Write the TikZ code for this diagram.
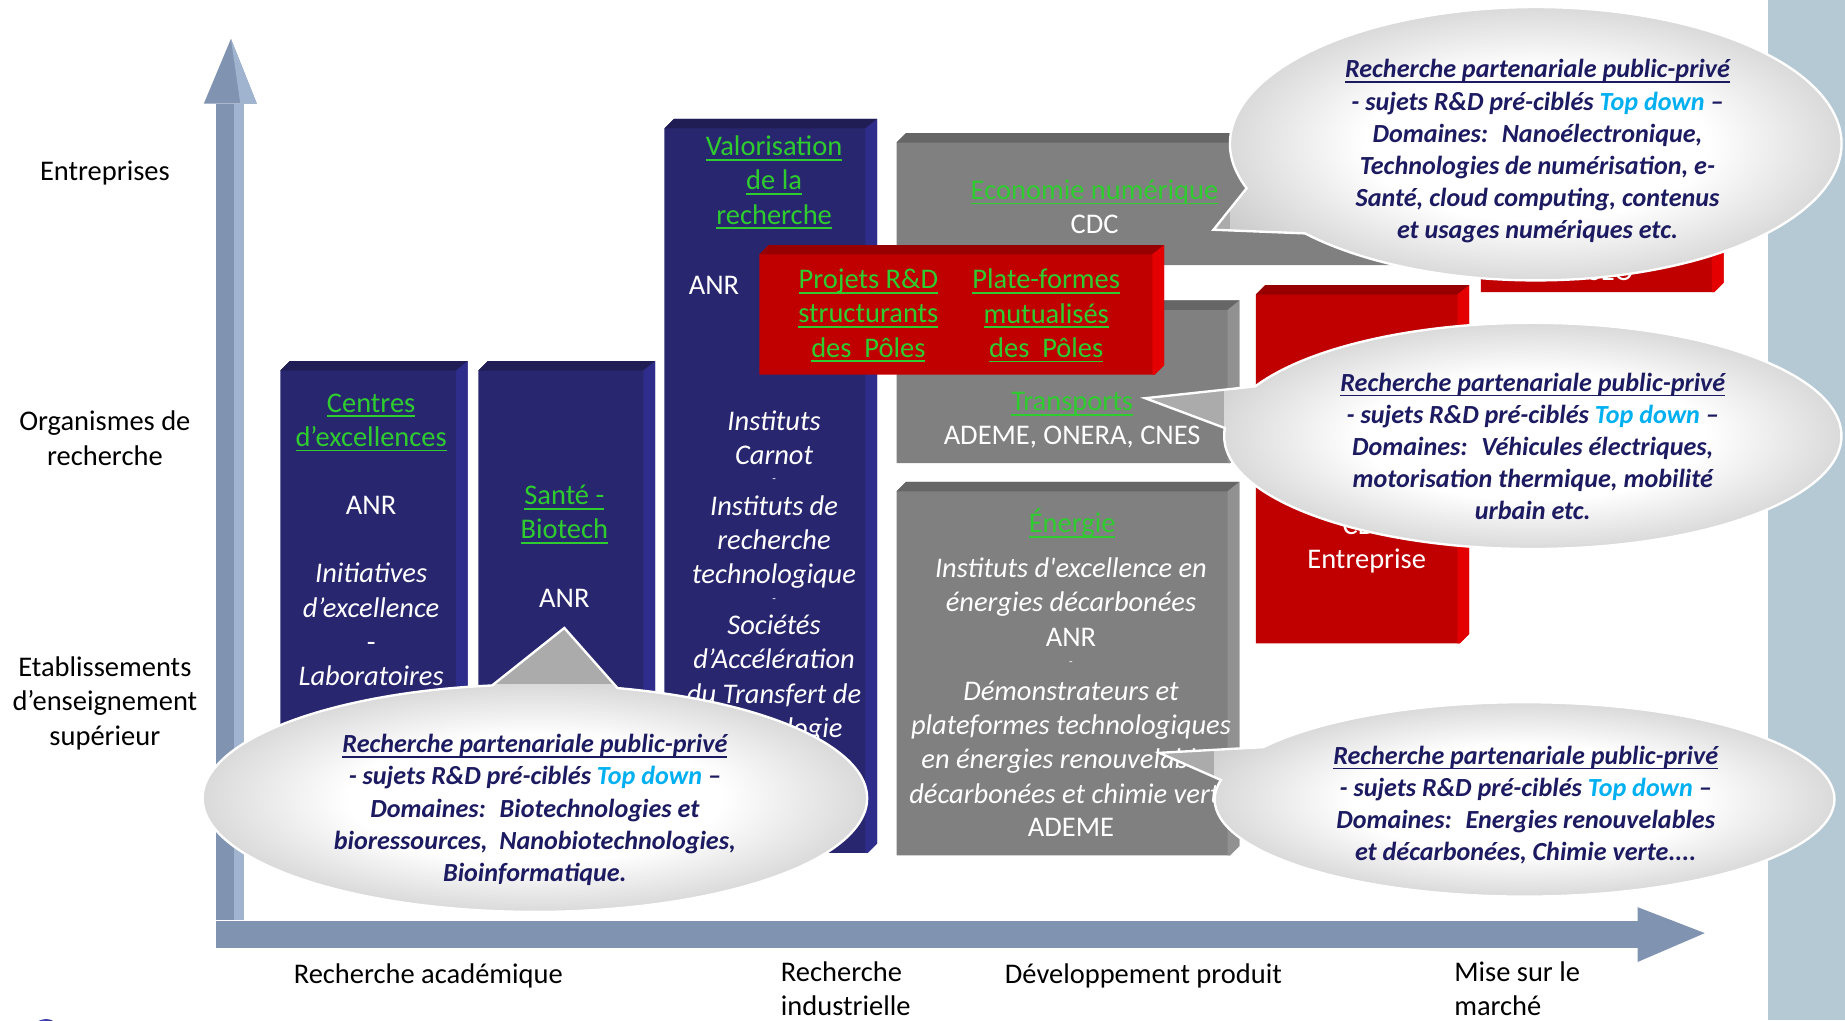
\documentclass[tikz,border=0pt]{standalone}
\usepackage{fontspec}
\setmainfont{Carlito}
\usepackage{tikz}
\usetikzlibrary{positioning,shapes,arrows,backgrounds,fit}

\definecolor{navyface}{RGB}{41,38,112}
\definecolor{navytop}{RGB}{31,29,84}
\definecolor{navyside}{RGB}{47,45,140}
\definecolor{grisface}{RGB}{128,128,128}
\definecolor{gristop}{RGB}{102,102,102}
\definecolor{grisside}{RGB}{145,145,145}
\definecolor{rougeface}{RGB}{192,0,0}
\definecolor{rougetop}{RGB}{150,0,0}
\definecolor{rougeside}{RGB}{228,0,0}
\definecolor{vertlien}{RGB}{46,204,46}
\definecolor{axe}{RGB}{128,147,176}
\definecolor{axeclair}{RGB}{160,180,208}
\definecolor{bande}{RGB}{181,201,213}
\definecolor{encre}{RGB}{28,26,96}
\definecolor{topdown}{RGB}{0,176,240}

\pgfdeclareradialshading{reflet}{\pgfpoint{0bp}{0bp}}{%
  color(0bp)=(white); color(14bp)=(white); color(44bp)=(black!40); color(50bp)=(black!40)}

\newcommand{\souligne}[1]{\leavevmode\setbox0\hbox{#1}\rlap{\vrule width\wd0 height -1.7pt depth 2.6pt}\box0}
\newcommand{\lien}[1]{\textcolor{vertlien}{\souligne{#1}}}
\newcommand{\td}{\textcolor{topdown}{Top down}}

% bar: name, x1, y1, x2, y2, colour
\newcommand{\bloc}[6]{%
  \fill[#6face] (#2,#3+8) -- (#2+8,#3) -- (#4,#3) -- (#4,#5-8) -- (#4-8,#5) -- (#2,#5) -- cycle;
  \fill[#6top] (#2,#3+8) -- (#2+8,#3) -- (#4,#3) -- (#4-10,#3+8) -- cycle;
  \fill[#6side] (#4-10,#3+8) -- (#4,#3) -- (#4,#5-8) -- (#4-8,#5) -- (#4-10,#5) -- cycle;
  \coordinate (#1) at (#2,#3);
}

% callout: cx, cy, rx, ry, tip, start and end angle of the rim
\newcommand{\bulle}[7]{%
  \path[draw=white, line width=1.2pt,
    path picture={
      \fill[black!33] (path picture bounding box.south west) rectangle (path picture bounding box.north east);
      \shade[shading=reflet] (#1-#3,#2-#4) rectangle (#1+#3,#2+#4);
    }]
    (#5) -- ([shift={(#1,#2)}]#6:#3 and #4) arc[start angle=#6, end angle=#7, x radius=#3, y radius=#4] -- cycle;
}

\begin{document}
\begin{tikzpicture}[x=0.6pt, y=-0.6pt,
    txt/.style={%
      align=center, inner sep=0pt, font=\fontsize{14.5}{17.4}\selectfont
    },
    blanc/.style={txt, text=white},
    blancit/.style={blanc, font=\fontsize{14.5}{17.4}\selectfont\itshape},
    tiret/.style={inner sep=0pt, text=white, font=\fontsize{6}{7}\selectfont},
    bulletxt/.style={%
      align=center, inner sep=0pt, text=encre,
      font=\fontsize{13.3}{16.4}\selectfont\bfseries\itshape
    }
]
    \useasboundingbox (0,0) rectangle (1566,866);
    \fill[bande] (1501,0) rectangle (1566,866);

    % axes
    \fill[axe] (183,88) rectangle (207,781);
    \fill[axeclair] (199,88) rectangle (207,781);
    \fill[axe] (173,88) -- (196,33) -- (218,88) -- cycle;
    \fill[axeclair] (196,33) -- (218,88) -- (204,88) -- cycle;
    \fill[axe] (183,782) rectangle (1390,805);
    \fill[axe] (1390,770) -- (1447,792) -- (1390,816.5) -- cycle;
    \begin{scope}
      \clip (0,0) rectangle (1566,866);
      \shade[ball color=blue!65!white] (39,878) circle (13);
    \end{scope}

    % bars
    \bloc{centresbar}{238}{306.5}{397}{726}{navy}
    \bloc{santebar}{406}{306.5}{556}{726}{navy}
    \bloc{valobar}{564}{101}{744.5}{724}{navy}
    \bloc{numbar}{761}{113}{1245}{225}{gris}
    \bloc{transbar}{761}{255}{1052}{393}{gris}
    \bloc{energiebar}{761}{409}{1052}{726}{gris}
    \bloc{polesbar}{644.5}{208}{988}{318}{rouge}
    \bloc{entreprisebar}{1066}{242}{1247}{546}{rouge}
    \bloc{oseobar}{1257}{100}{1463}{248}{rouge}

    \node[blanc] (centres) at (315,458) {\lien{Centres}\\\lien{d’excellences}\\[17.4pt]ANR\\[17.4pt]%
      \textit{Initiatives}\\\textit{d’excellence}\\-\\\textit{Laboratoires}};
    \node[blanc] (sante) at (479,463.5) {\lien{Santé -}\\\lien{Biotech}\\[17.4pt]ANR};

    \node[blanc] (valorisation) at (657,155) {\lien{Valorisation}\\\lien{de la}\\\lien{recherche}};
    \node[blanc] (anrvalo) at (606,242) {ANR};
    \node[blancit] (carnot) at (657,371.5) {Instituts\\Carnot};
    \node[tiret] (tiretcarnot) at (657,408) {-};
    \node[blancit] (irt) at (657,460) {Instituts de\\recherche\\technologique};
    \node[tiret] (tiretirt) at (657,510) {-};
    \node[blancit] (satt) at (657,576) {Sociétés\\d’Accélération\\du Transfert de\\Technologie};

    \node[blanc] (numerique) at (929,175.5) {\lien{Economie numérique}\\CDC};
    \node[blanc] (transports) at (910,357) {\lien{Transports}\\ADEME, ONERA, CNES};

    \node[blanc] (energie) at (910,444) {\lien{Énergie}};
    \node[blancit] (instexc) at (909,498.5) {Instituts d\textquotesingle excellence en\\énergies décarbonées};
    \node[blanc] (anrenergie) at (909,541) {ANR};
    \node[tiret] (tiretenergie) at (909,563) {-};
    \node[blancit] (demo) at (909,630) {Démonstrateurs et\\plateformes technologiques\\en énergies renouvelables\\décarbonées et chimie verte};
    \node[blanc] (ademe) at (909,702) {ADEME};

    \node[blanc] (projets) at (737,268) {\lien{Projets R\&D}\\\lien{structurants}\\\lien{des~~Pôles}};
    \node[blanc] (plateformes) at (888,268) {\lien{Plate-formes}\\\lien{mutualisés}\\\lien{des~~Pôles}};
    \node[blanc] (entreprise) at (1160,462) {CDC\\Entreprise};
    \node[blanc] (oseo) at (1359,230) {OSEO};

    % callouts
    \bulle{1303.5}{122}{259.5}{116}{1030,195}{161}{499}
    \node[bulletxt] (numtxt) at (1305,128.5) {\souligne{Recherche partenariale public-privé}\\
      - sujets R\&D pré-ciblés \td{} –\\Domaines:~ Nanoélectronique,\\Technologies de numérisation, e-\\
      Santé, cloud computing, contenus\\et usages numériques etc.};

    \bulle{1301}{370}{262}{96}{972,338}{184}{-154}
    \node[bulletxt] (transtxt) at (1301,379) {\souligne{Recherche partenariale public-privé}\\
      - sujets R\&D pré-ciblés \td{} –\\Domaines:~ Véhicules électriques,\\motorisation thermique, mobilité\\urbain etc.};

    \bulle{1294}{678.5}{263}{82.5}{984,639}{191.5}{-147.5}
    \node[bulletxt] (energietxt) at (1295,683.5) {\souligne{Recherche partenariale public-privé}\\
      - sujets R\&D pré-ciblés \td{} –\\Domaines:~ Energies renouvelables\\et décarbonées, Chimie verte....};

    \bulle{454}{677.5}{282}{96.5}{479,533}{284.4}{622.6}
    \node[bulletxt] (santetxt) at (454,687.5) {\souligne{Recherche partenariale public-privé}\\
      - sujets R\&D pré-ciblés \td{} –\\Domaines:~ Biotechnologies et\\bioressources,~ Nanobiotechnologies,\\Bioinformatique.};

    % axis labels
    \node[txt] (entreprises) at (89,147) {Entreprises};
    \node[txt] (organismes) at (89,372) {Organismes de\\recherche};
    \node[txt] (etablissements) at (89,597) {Etablissements\\d’enseignement\\supérieur};
    \node[txt] (academique) at (363.5,828) {Recherche académique};
    \node[txt, align=left, anchor=north west] (industrielle) at (662.5,816) {Recherche\\industrielle};
    \node[txt] (developpement) at (970.5,828) {Développement produit};
    \node[txt, align=left, anchor=north west] (marche) at (1234,816) {Mise sur le\\marché};
\end{tikzpicture}
\end{document}
